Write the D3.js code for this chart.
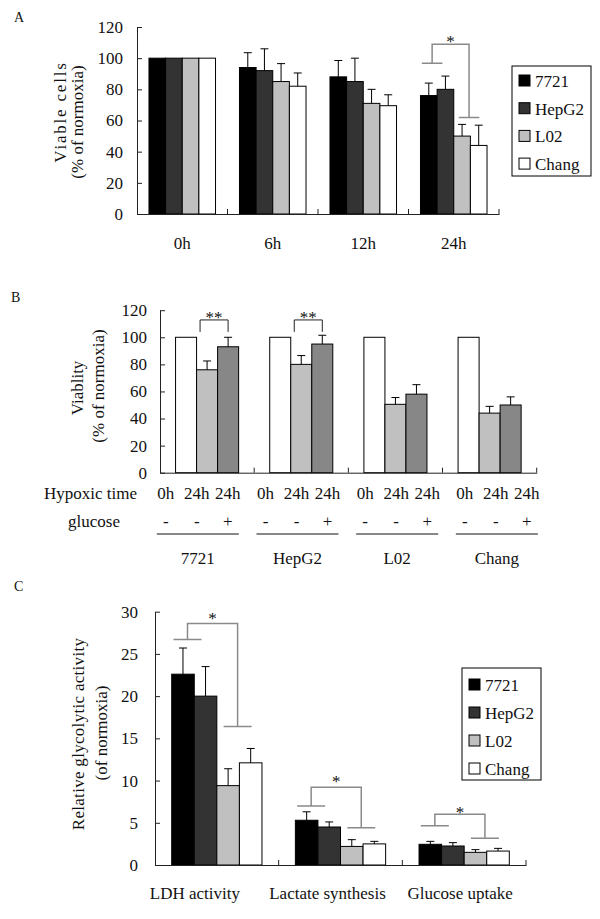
<!DOCTYPE html>
<html><head><meta charset="utf-8">
<script src="https://cdn.jsdelivr.net/npm/d3@7"></script>
<style>
body{margin:0;background:#fff}
text{font-family:"Liberation Serif","Times New Roman",serif;fill:#111}
</style>
</head><body>
<svg id="chart" width="600" height="919"></svg>
<script>
// ---------------- DATA ----------------
const seriesNames = ["7721", "HepG2", "L02", "Chang"];
const seriesColors = ["#000000", "#333333", "#c0c0c0", "#ffffff"];

// Panel A: viable cells (% of normoxia) over hypoxic time
const timesA = ["0h", "6h", "12h", "24h"];
const a7721 = [100, 94, 88, 76];
const aHepG2 = [100, 92, 85, 80];
const aL02 = [100, 85, 71, 50];
const aChang = [100, 82, 69.5, 44];
const a7721Err = [0, 9.5, 10.5, 8];
const aHepG2Err = [0, 14, 15, 8.5];
const aL02Err = [0, 11.5, 9, 7.5];
const aChangErr = [0, 8.5, 7, 13];
const ticksA = [0, 20, 40, 60, 80, 100, 120];

// Panel B: viability with / without glucose
const cellLinesB = ["7721", "HepG2", "L02", "Chang"];
const conditionsB = ["0h", "24h", "24h+glucose"];
const hypoxicTimeB = ["0h", "24h", "24h"];
const glucoseB = ["-", "-", "+"];
const conditionColorsB = ["#ffffff", "#c0c0c0", "#878787"];
const b0h = [100, 100, 100, 100];
const b24h = [76, 80, 50.5, 44];
const b24hGlu = [93, 95, 58, 50];
const b0hErr = [0, 0, 0, 0];
const b24hErr = [6.5, 6.5, 5, 5];
const b24hGluErr = [7, 6.5, 7, 6];
const ticksB = [0, 20, 40, 60, 80, 100, 120];

// Panel C: relative glycolytic activity
const catsC = ["LDH activity", "Lactate synthesis", "Glucose uptake"];
const c7721 = [22.6, 5.3, 2.45];
const cHepG2 = [20.0, 4.5, 2.25];
const cL02 = [9.4, 2.2, 1.5];
const cChang = [12.1, 2.5, 1.65];
const c7721Err = [3.1, 1.0, 0.35];
const cHepG2Err = [3.5, 0.6, 0.4];
const cL02Err = [2.0, 0.8, 0.32];
const cChangErr = [1.7, 0.3, 0.32];
const ticksC = [0, 5, 10, 15, 20, 25, 30];

// significance annotations (value levels)
const sigA = [{cat: "24h", left: 96.7, top: 109, right: 62, star: 113.5, label: "*"}];
const sigB = [
  {group: "7721", top: 112.8, end: 104, star: 118, label: "**"},
  {group: "HepG2", top: 112.8, end: 104, star: 118, label: "**"}
];
const sigC = [
  {cat: "LDH activity", left: 26.7, top: 28.6, right: 16.4, star: 29.8, label: "*"},
  {cat: "Lactate synthesis", left: 7.0, top: 9.2, right: 4.4, star: 10.5, label: "*"},
  {cat: "Glucose uptake", left: 4.65, top: 6.0, right: 3.16, star: 6.8, label: "*"}
];

// ---------------- DRAW ----------------
const svg = d3.select("#chart");
const FS = 17;

function yAxis(g, y, ticks, x0, pad) {
  const ax = g.append("g").attr("transform", `translate(${x0},0)`)
    .call(d3.axisLeft(y).tickValues(ticks).tickSize(-5).tickSizeOuter(0).tickPadding(pad));
  ax.selectAll("path,line").attr("stroke", "#222");
  ax.selectAll("text").style("font-family", '"Liberation Serif",serif').style("font-size", FS + "px").attr("fill", "#111");
  return ax;
}
function xAxis(g, x, y0, pad, showLabels) {
  const ax = g.append("g").attr("transform", `translate(0,${y0})`)
    .call(d3.axisBottom(x).tickSize(0).tickSizeOuter(0).tickPadding(pad));
  ax.selectAll("path").attr("stroke", "#222");
  ax.selectAll("text").style("font-family", '"Liberation Serif",serif').style("font-size", FS + "px").attr("fill", "#111");
  if (!showLabels) ax.selectAll(".tick text").remove();
  // boundary ticks between groups (inward)
  const bounds = x.domain().slice(1).map(d => x(d)).concat([x.range()[1]]);
  g.selectAll(null).data(bounds).join("line")
    .attr("x1", d => d).attr("x2", d => d).attr("y1", y0).attr("y2", y0 - 5)
    .attr("stroke", "#222");
  return ax;
}
function bars(g, cats, series, vals, errs, colors, x, inner, y) {
  series.forEach((s, si) => {
    const data = cats.map((c, ci) => ({c, v: vals[si][ci], e: errs[si][ci]}));
    g.selectAll(null).data(data).join("rect")
      .attr("x", d => x(d.c) + inner(s)).attr("width", inner.bandwidth())
      .attr("y", d => y(d.v)).attr("height", d => y(0) - y(d.v))
      .attr("fill", colors[si]).attr("stroke", "#000").attr("stroke-width", 1);
    const eb = data.filter(d => d.e > 0);
    const cx = d => x(d.c) + inner(s) + inner.bandwidth() / 2;
    g.selectAll(null).data(eb).join("line")
      .attr("x1", cx).attr("x2", cx).attr("y1", d => y(d.v)).attr("y2", d => y(d.v + d.e))
      .attr("stroke", "#000");
    g.selectAll(null).data(eb).join("line")
      .attr("x1", d => cx(d) - 4).attr("x2", d => cx(d) + 4)
      .attr("y1", d => y(d.v + d.e)).attr("y2", d => y(d.v + d.e))
      .attr("stroke", "#000");
  });
}
function yTitle(g, lines) {
  lines.forEach(l => {
    g.append("text").attr("transform", `translate(${l.x},${l.y}) rotate(-90)`)
      .attr("text-anchor", "middle").attr("dy", "0.35em").style("font-size", FS + "px")
      .style("letter-spacing", (l.ls || 0) + "px").text(l.t);
  });
}
function legend(g, x0, y0, w, h, first, step) {
  g.append("rect").attr("x", x0).attr("y", y0).attr("width", w).attr("height", h)
    .attr("fill", "#fff").attr("stroke", "#000");
  seriesNames.forEach((s, i) => {
    const cy = y0 + first + i * step;
    g.append("rect").attr("x", x0 + 7).attr("y", cy - 6).attr("width", 11).attr("height", 11)
      .attr("fill", seriesColors[i]).attr("stroke", "#000");
    g.append("text").attr("x", x0 + 23).attr("y", cy).attr("dy", "0.35em")
      .style("font-size", FS + "px").text(s);
  });
}
function bracket(g, x, inner, y, sig, color) {
  const bw = inner.bandwidth();
  const lx = x(sig.cat) + inner(seriesNames[0]) + 0.7 * bw;
  const rx = x(sig.cat) + inner(seriesNames[2]) + 0.92 * bw;
  const hw = 0.62 * bw;
  const path = d3.path();
  path.moveTo(lx, y(sig.left)); path.lineTo(lx, y(sig.top));
  path.lineTo(rx, y(sig.top)); path.lineTo(rx, y(sig.right));
  path.moveTo(lx - hw, y(sig.left)); path.lineTo(lx + hw, y(sig.left));
  path.moveTo(rx - hw, y(sig.right)); path.lineTo(rx + hw, y(sig.right));
  g.append("path").attr("d", path.toString()).attr("fill", "none").attr("stroke", color).attr("stroke-width", 1.5);
  g.append("text").attr("x", (lx + rx) / 2).attr("y", y(sig.star)).attr("dy", "0.6em")
    .attr("text-anchor", "middle").style("font-size", FS + "px").text(sig.label);
}

// ---------- Panel A ----------
{
  const g = svg.append("g");
  const x = d3.scaleBand().domain(timesA).range([137, 499]).padding(0);
  const inner = d3.scaleBand().domain(seriesNames).range([0, x.bandwidth()]).paddingInner(0).paddingOuter(0.72);
  const y = d3.scaleLinear().domain([0, 120]).range([214, 27]);
  bars(g, timesA, seriesNames, [a7721, aHepG2, aL02, aChang], [a7721Err, aHepG2Err, aL02Err, aChangErr], seriesColors, x, inner, y);
  yAxis(g, y, ticksA, 137, 14);
  xAxis(g, x, 214, 23, true);
  sigA.forEach(s => bracket(g, x, inner, y, s, "#8a8a8a"));
  legend(g, 512, 66, 79, 110, 15, 27.7);
  yTitle(g, [{x: 60, y: 112, t: "Viable cells", ls: 1.8}, {x: 77, y: 122, t: "(% of normoxia)"}]);
  g.append("text").attr("x", 14).attr("y", 22).style("font-size", "14px").text("A");
}

// ---------- Panel B ----------
{
  const g = svg.append("g");
  const x = d3.scaleBand().domain(cellLinesB).range([160, 536.7]).padding(0);
  const inner = d3.scaleBand().domain(conditionsB).range([0, x.bandwidth()]).paddingInner(0).paddingOuter(0.74);
  const y = d3.scaleLinear().domain([0, 120]).range([472.7, 310.2]);
  const vals = [b0h, b24h, b24hGlu];
  const errs = [b0hErr, b24hErr, b24hGluErr];
  conditionsB.forEach((cond, si) => {
    const data = cellLinesB.map((c, ci) => ({c, v: vals[si][ci], e: errs[si][ci]}));
    g.selectAll(null).data(data).join("rect")
      .attr("x", d => x(d.c) + inner(cond)).attr("width", inner.bandwidth())
      .attr("y", d => y(d.v)).attr("height", d => y(0) - y(d.v))
      .attr("fill", conditionColorsB[si]).attr("stroke", "#000");
    const eb = data.filter(d => d.e > 0);
    const cx = d => x(d.c) + inner(cond) + inner.bandwidth() / 2;
    g.selectAll(null).data(eb).join("line")
      .attr("x1", cx).attr("x2", cx).attr("y1", d => y(d.v)).attr("y2", d => y(d.v + d.e)).attr("stroke", "#000");
    g.selectAll(null).data(eb).join("line")
      .attr("x1", d => cx(d) - 4).attr("x2", d => cx(d) + 4)
      .attr("y1", d => y(d.v + d.e)).attr("y2", d => y(d.v + d.e)).attr("stroke", "#000");
  });
  yAxis(g, y, ticksB, 160, 13);
  xAxis(g, x, 472.7, 10, false);
  // significance brackets
  sigB.forEach(s => {
    const lx = x(s.group) + inner(conditionsB[1]) + 3.5;
    const rx = x(s.group) + inner(conditionsB[2]) + inner.bandwidth() / 2;
    const p = d3.path();
    p.moveTo(lx, y(s.end)); p.lineTo(lx, y(s.top)); p.lineTo(rx, y(s.top)); p.lineTo(rx, y(s.end));
    g.append("path").attr("d", p.toString()).attr("fill", "none").attr("stroke", "#222");
    g.append("text").attr("x", (lx + rx) / 2).attr("y", y(s.star)).attr("dy", "0.6em")
      .attr("text-anchor", "middle").style("font-size", FS + "px").text(s.label);
  });
  // table rows under the axis
  const rowX = d3.scaleBand().domain(cellLinesB).range([x.range()[0] - 12, x.range()[1] + 10]);
  const sub = d3.scalePoint().domain(d3.range(conditionsB.length)).range([-32, 30]);
  const rc = c => rowX(c) + rowX.bandwidth() / 2;
  g.append("text").attr("x", 137).attr("y", 499).attr("text-anchor", "end").style("font-size", FS + "px").text("Hypoxic time");
  g.append("text").attr("x", 120).attr("y", 527).attr("text-anchor", "end").style("font-size", FS + "px").text("glucose");
  cellLinesB.forEach(c => {
    hypoxicTimeB.forEach((t, i) => {
      g.append("text").attr("x", rc(c) + sub(i)).attr("y", 499).attr("text-anchor", "middle").style("font-size", FS + "px").text(t);
    });
    glucoseB.forEach((t, i) => {
      g.append("text").attr("x", rc(c) + sub(i)).attr("y", 527).attr("text-anchor", "middle").style("font-size", FS + "px").text(t);
    });
    g.append("line").attr("x1", rc(c) - 41).attr("x2", rc(c) + 41).attr("y1", 534).attr("y2", 534).attr("stroke", "#111");
    g.append("text").attr("x", rc(c)).attr("y", 564).attr("text-anchor", "middle").style("font-size", FS + "px").text(c);
  });
  yTitle(g, [{x: 77, y: 388, t: "Viablity"}, {x: 98, y: 386, t: "(% of normoxia)"}]);
  g.append("text").attr("x", 11).attr("y", 302).style("font-size", "14px").text("B");
}

// ---------- Panel C ----------
{
  const g = svg.append("g");
  const x = d3.scaleBand().domain(catsC).range([155, 526]).padding(0);
  const inner = d3.scaleBand().domain(seriesNames).range([0, x.bandwidth()]).paddingInner(0).paddingOuter(0.74);
  const y = d3.scaleLinear().domain([0, 30]).range([865, 611.7]);
  bars(g, catsC, seriesNames, [c7721, cHepG2, cL02, cChang], [c7721Err, cHepG2Err, cL02Err, cChangErr], seriesColors, x, inner, y);
  yAxis(g, y, ticksC, 155, 17);
  const ax = xAxis(g, x, 865, 22, true);
  const shift = d3.scaleLinear().domain([0, catsC.length - 1]).range([-22, -4]);
  ax.selectAll(".tick text").attr("x", (d, i) => shift(i));
  sigC.forEach(s => bracket(g, x, inner, y, s, "#8a8a8a"));
  legend(g, 462, 668, 79, 112, 17, 28);
  yTitle(g, [{x: 78, y: 734, t: "Relative glycolytic activity", ls: 0.3}, {x: 101, y: 733, t: "(of normoxia)"}]);
  g.append("text").attr("x", 14).attr("y", 591).style("font-size", "14px").text("C");
}
</script>
</body></html>
